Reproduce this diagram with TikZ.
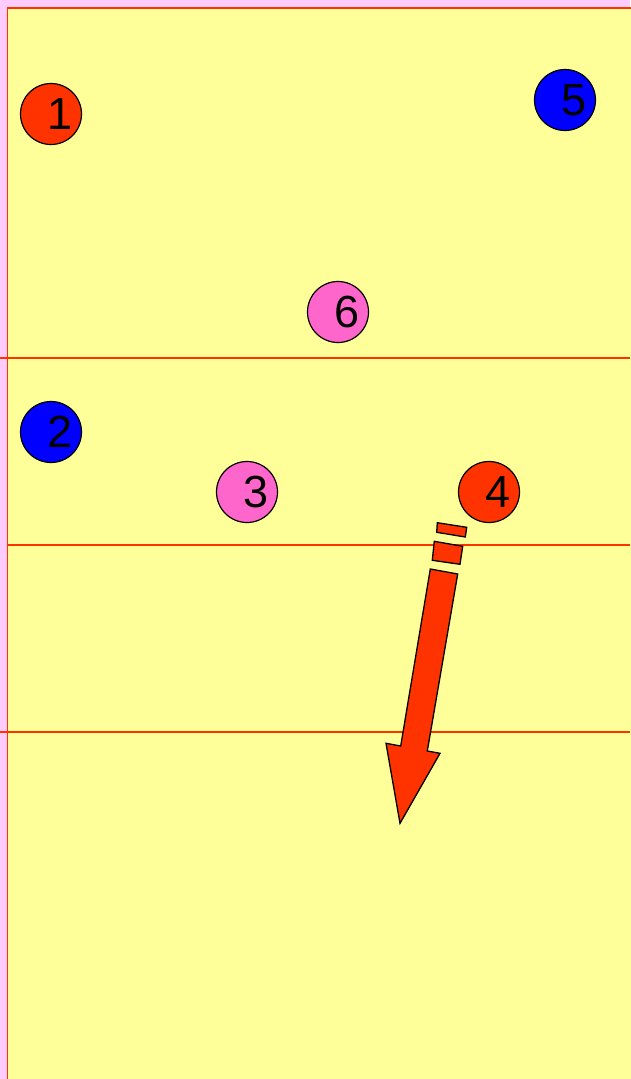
\documentclass[tikz,border=0pt]{standalone}
\usepackage{fontspec}
\setmainfont{Liberation Sans}
\definecolor{courtyellow}{HTML}{FFFF99}
\definecolor{bgpink}{HTML}{FFCCFF}
\definecolor{teamred}{HTML}{FF3300}
\definecolor{teamblue}{HTML}{0000FF}
\definecolor{teampink}{HTML}{FF66CC}
\tikzset{
  player/.style={circle, draw=black, line width=1.2pt, minimum size=61pt, inner sep=0pt},
  redplayer/.style={player, fill=teamred},
  blueplayer/.style={player, fill=teamblue},
  pinkplayer/.style={player, fill=teampink},
  num/.style={font=\fontsize{45}{45}\selectfont, xshift=9pt, inner sep=0pt},
  courtline/.style={teamred, line width=1.6pt},
  movearrow/.style={fill=teamred, draw=black, line width=1.3pt, line join=miter}
}
\begin{document}
\begin{tikzpicture}[x=1pt, y=-1pt]
  \useasboundingbox (0,0) rectangle (630,1079);
  \fill[bgpink] (0,0) rectangle (630,1079);
  \draw[courtline, fill=courtyellow] (7.5,8) rectangle (640,1090);
  \draw[courtline] (0,358) -- (630,358);
  \draw[courtline] (7.5,545) -- (630,545);
  \draw[courtline] (0,732) -- (630,732);

  \node[redplayer, label={[num]center:1}] (p1) at (51,114) {};
  \node[blueplayer, label={[num]center:5}] (p5) at (565,100) {};
  \node[pinkplayer, label={[num]center:6}] (p6) at (338,312) {};
  \node[blueplayer, label={[num]center:2}] (p2) at (51,432) {};
  \node[pinkplayer, label={[num]center:3}] (p3) at (247,492) {};
  \node[redplayer, label={[num]center:4}] (p4) at (489,492) {};

  % movement of 4
  \draw[movearrow] (437.3,522.7) -- (466.7,527.3) -- (465.3,537) -- (436.7,532.3) -- cycle;
  \draw[movearrow] (434.3,541.3) -- (462.7,546.3) -- (460,564.3) -- (432.3,560.3) -- cycle;
  \draw[movearrow] (430.3,569) -- (457.7,574) -- (427.3,751) -- (440,753.3)
    -- (400,823.3) -- (386,743.3) -- (400.7,746) -- cycle;
\end{tikzpicture}
\end{document}
